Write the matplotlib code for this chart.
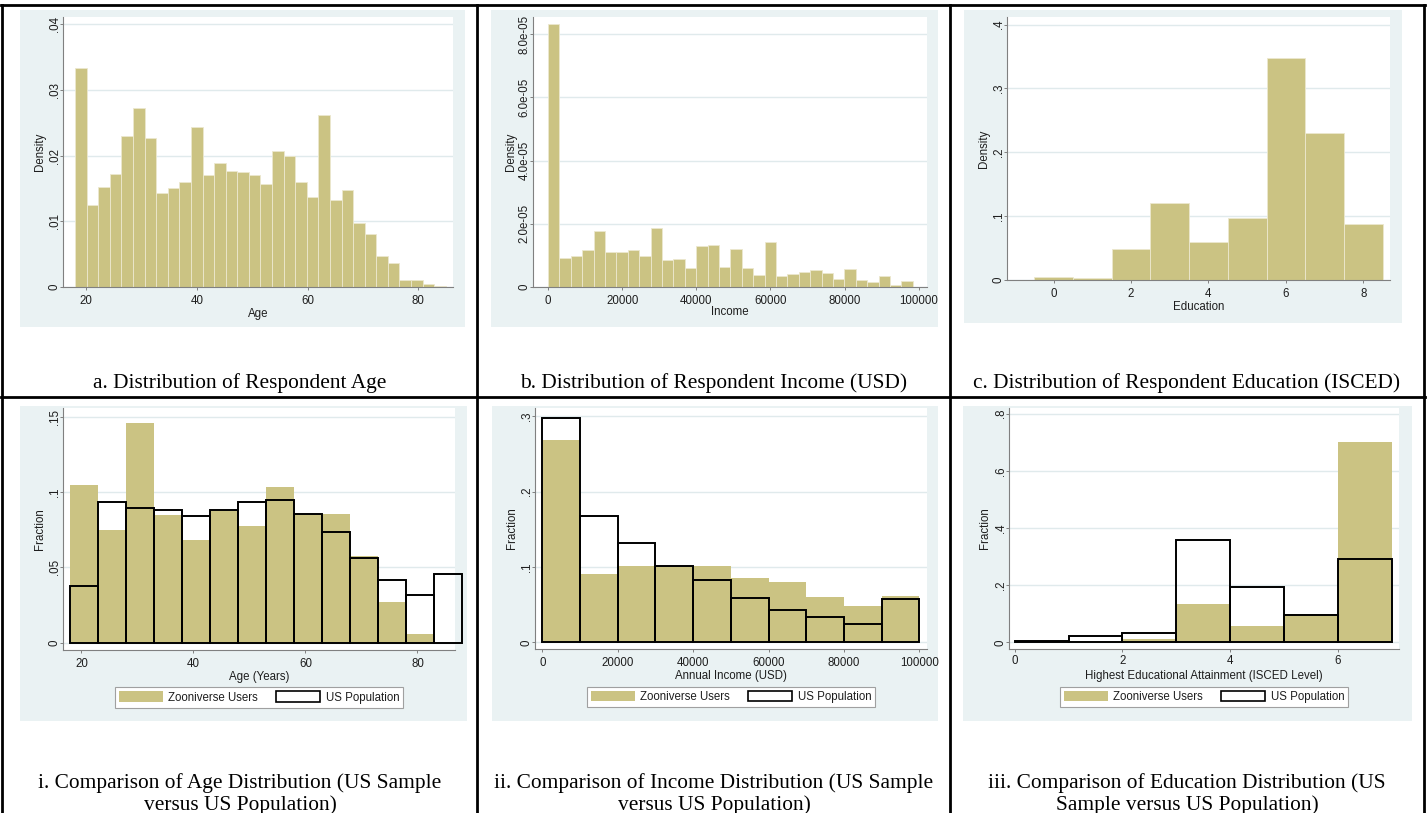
import matplotlib
matplotlib.use("Agg")
import matplotlib.pyplot as plt
from matplotlib.patches import Rectangle, Patch
from matplotlib.lines import Line2D
import numpy as np

# ---------------- data ----------------
age_bin_start = 18.0
age_bin_width = 67.0 / 32
age_density = [0.0334, 0.0125, 0.0152, 0.0172, 0.0230, 0.0272, 0.0227, 0.0143,
               0.0150, 0.0160, 0.0243, 0.0170, 0.0189, 0.0177, 0.0175, 0.0170,
               0.0157, 0.0207, 0.0200, 0.0160, 0.0137, 0.0262, 0.0132, 0.0147,
               0.0097, 0.0080, 0.0047, 0.0037, 0.0010, 0.0010, 0.0005, 0.0002]

inc_bin_start = 0.0
inc_bin_width = 98400.0 / 32
inc_density = [8.32e-5, 0.93e-5, 0.98e-5, 1.16e-5, 1.78e-5, 1.10e-5, 1.12e-5, 1.16e-5,
               0.99e-5, 1.87e-5, 0.84e-5, 0.90e-5, 0.61e-5, 1.30e-5, 1.34e-5, 0.64e-5,
               1.19e-5, 0.59e-5, 0.39e-5, 1.42e-5, 0.36e-5, 0.42e-5, 0.46e-5, 0.53e-5,
               0.45e-5, 0.24e-5, 0.57e-5, 0.22e-5, 0.16e-5, 0.35e-5, 0.06e-5, 0.19e-5]

edu_levels = [0, 1, 2, 3, 4, 5, 6, 7, 8]
edu_density = [0.0042, 0.0031, 0.0485, 0.121, 0.059, 0.0975, 0.348, 0.2305, 0.0876]

cmp_age_lower = [18, 23, 28, 33, 38, 43, 48, 53, 58, 63, 68, 73, 78, 83]
cmp_age_width = 5
cmp_age_zoo = [0.1049, 0.0752, 0.146, 0.0847, 0.0685, 0.0878, 0.0778, 0.1033,
               0.0856, 0.0858, 0.0576, 0.0270, 0.0055, 0.0]
cmp_age_us = [0.0375, 0.0938, 0.0894, 0.0885, 0.0845, 0.0885, 0.0938, 0.0951,
              0.0858, 0.0738, 0.0563, 0.0415, 0.0317, 0.0455]

cmp_inc_lower = [0, 10000, 20000, 30000, 40000, 50000, 60000, 70000, 80000, 90000]
cmp_inc_width = 10000
cmp_inc_zoo = [0.268, 0.0907, 0.1018, 0.1018, 0.1009, 0.0859, 0.0797, 0.0604, 0.0485, 0.0621]
cmp_inc_us = [0.298, 0.168, 0.132, 0.102, 0.0824, 0.059, 0.0436, 0.0335, 0.0247, 0.0573]

cmp_edu_lower = [0, 1, 2, 3, 4, 5, 6]
cmp_edu_width = 1
cmp_edu_zoo = [0.002, 0.001, 0.0105, 0.133, 0.057, 0.0994, 0.70]
cmp_edu_us = [0.0035, 0.0234, 0.034, 0.359, 0.193, 0.096, 0.291]

legend_labels = ["Zooniverse Users", "US Population"]

captions_top = ["a. Distribution of Respondent Age",
                "b. Distribution of Respondent Income (USD)",
                "c. Distribution of Respondent Education (ISCED)"]
captions_bottom = [["i. Comparison of Age Distribution (US Sample", "versus US Population)"],
                   ["ii. Comparison of Income Distribution (US Sample", "versus US Population)"],
                   ["iii. Comparison of Education Distribution (US", "Sample versus US Population)"]]

# ---------------- style ----------------
W, H = 1428, 813
TAN = "#CBC383"
BG = "#EAF2F3"
GRID = "#E0EAEC"
AXC = "#808080"
TXT = "#1E1E1E"
FS = 8.3
SANS = ["Liberation Sans", "DejaVu Sans"]
SERIF = ["Liberation Serif", "DejaVu Serif"]

fig = plt.figure(figsize=(W / 100, H / 100), dpi=100)
fig.patch.set_facecolor("white")


def frect(x0, y0, x1, y1):
    return [x0 / W, 1 - y1 / H, (x1 - x0) / W, (y1 - y0) / H]


def bg(x0, y0, x1, y1):
    fig.patches.append(Rectangle((x0 / W, 1 - y1 / H), (x1 - x0) / W, (y1 - y0) / H,
                                 transform=fig.transFigure, facecolor=BG,
                                 edgecolor="none", zorder=-10))


def hline(y, x0, x1, lw=2.0):
    fig.lines.append(Line2D([x0 / W, x1 / W], [1 - y / H, 1 - y / H],
                            transform=fig.transFigure, color="black", lw=lw, zorder=5))


def vline(x, y0, y1, lw=2.0):
    fig.lines.append(Line2D([x / W, x / W], [1 - y0 / H, 1 - y1 / H],
                            transform=fig.transFigure, color="black", lw=lw, zorder=5))


def make_axes(box, xlim, ylim, xticks, yticks, yticklabels, xlabel, ylabel,
              xlabel_y, ylabel_x):
    x0, y0, x1, y1 = box
    ax = fig.add_axes(frect(x0, y0, x1, y1))
    ax.set_zorder(1)
    ax.set_facecolor("white")
    ax.set_xlim(*xlim)
    ax.set_ylim(*ylim)
    for s in ["top", "right"]:
        ax.spines[s].set_visible(False)
    for s in ["left", "bottom"]:
        ax.spines[s].set_color(AXC)
        ax.spines[s].set_linewidth(0.8)
    ax.set_xticks(xticks)
    ax.set_xticklabels([str(t) for t in xticks], fontsize=FS, family=SANS, color=TXT)
    ax.set_yticks(yticks)
    ax.set_yticklabels(yticklabels, fontsize=FS, family=SANS, color=TXT)
    ax.tick_params(axis="x", length=2.3, width=0.7, color=AXC, pad=3.2)
    ax.tick_params(axis="y", length=2.3, width=0.7, color=AXC, pad=1.6)
    for t in ax.get_yticklabels():
        t.set_rotation(90)
        t.set_rotation_mode("anchor")
        t.set_ha("center")
        t.set_va("baseline")
    ax.yaxis.grid(True, color=GRID, lw=1.0)
    ax.set_axisbelow(True)
    ax.set_xlabel(xlabel, fontsize=FS, family=SANS, color=TXT)
    ax.set_ylabel(ylabel, fontsize=FS, family=SANS, color=TXT)
    ax.xaxis.set_label_coords(0.5, (y1 - xlabel_y) / (y1 - y0))
    ax.xaxis.label.set_va("center")
    ax.yaxis.set_label_coords((ylabel_x - x0) / (x1 - x0), 0.5)
    ax.yaxis.label.set_va("center")
    return ax


# ---------------- table lines & backgrounds ----------------
bg(20, 10, 465, 327)
bg(491, 10, 938, 327)
bg(964, 10, 1402, 323)
bg(20, 406, 467, 721)
bg(492, 406, 938, 721)
bg(963, 406, 1412, 721)

hline(5.5, 1, 1425)
hline(397, 1, 1425)
vline(2, 5, 813)
vline(477, 5, 813)
vline(950, 5, 813)
vline(1424, 5, 813)

# ---------------- row 1 ----------------
ax = make_axes((63, 17, 453, 287), (15.8, 86.3), (0, 0.0411), [20, 40, 60, 80],
               [0, .01, .02, .03, .04], ["0", ".01", ".02", ".03", ".04"],
               "Age", "Density", 314, 40)
lefts = age_bin_start + age_bin_width * np.arange(len(age_density))
ax.bar(lefts, age_density, width=age_bin_width, align="edge", color=TAN,
       edgecolor="#ECE8CF", linewidth=0.6)

ax = make_axes((533, 17, 927, 287), (-4054, 102252), (0, 8.54e-5),
               [0, 20000, 40000, 60000, 80000, 100000],
               [0, 2e-5, 4e-5, 6e-5, 8e-5], ["0", "2.0e-05", "4.0e-05", "6.0e-05", "8.0e-05"],
               "Income", "Density", 312, 511)
lefts = inc_bin_start + inc_bin_width * np.arange(len(inc_density))
ax.bar(lefts, inc_density, width=inc_bin_width, align="edge", color=TAN,
       edgecolor="#ECE8CF", linewidth=0.6)

ax = make_axes((1007, 17, 1390, 280), (-1.204, 8.69), (0, 0.412), [0, 2, 4, 6, 8],
               [0, .1, .2, .3, .4], ["0", ".1", ".2", ".3", ".4"],
               "Education", "Density", 307, 984)
ax.bar(edu_levels, edu_density, width=1.0, align="center", color=TAN,
       edgecolor="#ECE8CF", linewidth=0.6)

# ---------------- row 2 ----------------
def compare(box, xlim, ylim, xticks, yticks, ytl, xlabel, xlabel_y, ylabel_x,
            lowers, width, zoo, us, leg_c):
    ax = make_axes(box, xlim, ylim, xticks, yticks, ytl, xlabel, "Fraction",
                   xlabel_y, ylabel_x)
    ax.bar(lowers, zoo, width=width, align="edge", color=TAN, edgecolor="none",
           zorder=2)
    bars = ax.bar(lowers, us, width=width, align="edge", fill=False,
                  edgecolor="black", linewidth=1.4, zorder=3)
    for b in bars:
        b.set_clip_on(False)
    handles = [Patch(facecolor=TAN, edgecolor="none"),
               Patch(facecolor="white", edgecolor="black", linewidth=1.2)]
    leg = fig.legend(handles, legend_labels, loc="center",
                     bbox_to_anchor=(leg_c[0] / W, 1 - leg_c[1] / H),
                     bbox_transform=fig.transFigure, ncol=2, frameon=True,
                     fancybox=False, framealpha=1, edgecolor="#A0A0A0",
                     prop={"family": SANS, "size": FS}, handlelength=3.8,
                     handleheight=1.0, handletextpad=0.5, columnspacing=1.55,
                     borderpad=0.35, borderaxespad=0)
    leg.get_frame().set_linewidth(0.8)
    for t in leg.get_texts():
        t.set_color(TXT)
    return ax


compare((63, 408, 455, 650), (16.7, 86.7), (-0.0049, 0.156), [20, 40, 60, 80],
        [0, .05, .1, .15], ["0", ".05", ".1", ".15"], "Age (Years)", 677, 40,
        cmp_age_lower, cmp_age_width, cmp_age_zoo, cmp_age_us, (259, 697.5))

compare((535, 408, 927, 649), (-1947, 102035), (-0.0088, 0.311),
        [0, 20000, 40000, 60000, 80000, 100000],
        [0, .1, .2, .3], ["0", ".1", ".2", ".3"], "Annual Income (USD)", 676, 512,
        cmp_inc_lower, cmp_inc_width, cmp_inc_zoo, cmp_inc_us, (731, 697))

ax3 = compare((1009, 408, 1399, 649), (-0.105, 7.13), (-0.0234, 0.82), [0, 2, 4, 6],
              [0, .2, .4, .6, .8], ["0", ".2", ".4", ".6", ".8"],
              "Highest Educational Attainment (ISCED Level)", 676, 985,
              cmp_edu_lower, cmp_edu_width, cmp_edu_zoo, cmp_edu_us, (1204, 697))
ax3.tick_params(axis="x", pad=2.2)

# ---------------- captions ----------------
col_centers = [240, 714, 1187]
CFS = 15.4
for cx, cap in zip(col_centers, captions_top):
    fig.text(cx / W, 1 - 383 / H, cap, ha="center", va="center",
             fontsize=CFS, family=SERIF, color="black")
for cx, (l1, l2) in zip(col_centers, captions_bottom):
    fig.text(cx / W, 1 - 783 / H, l1, ha="center", va="center",
             fontsize=CFS, family=SERIF, color="black")
    fig.text(cx / W, 1 - 805 / H, l2, ha="center", va="center",
             fontsize=CFS, family=SERIF, color="black")

fig.savefig("out.png", dpi=100, facecolor="white")
